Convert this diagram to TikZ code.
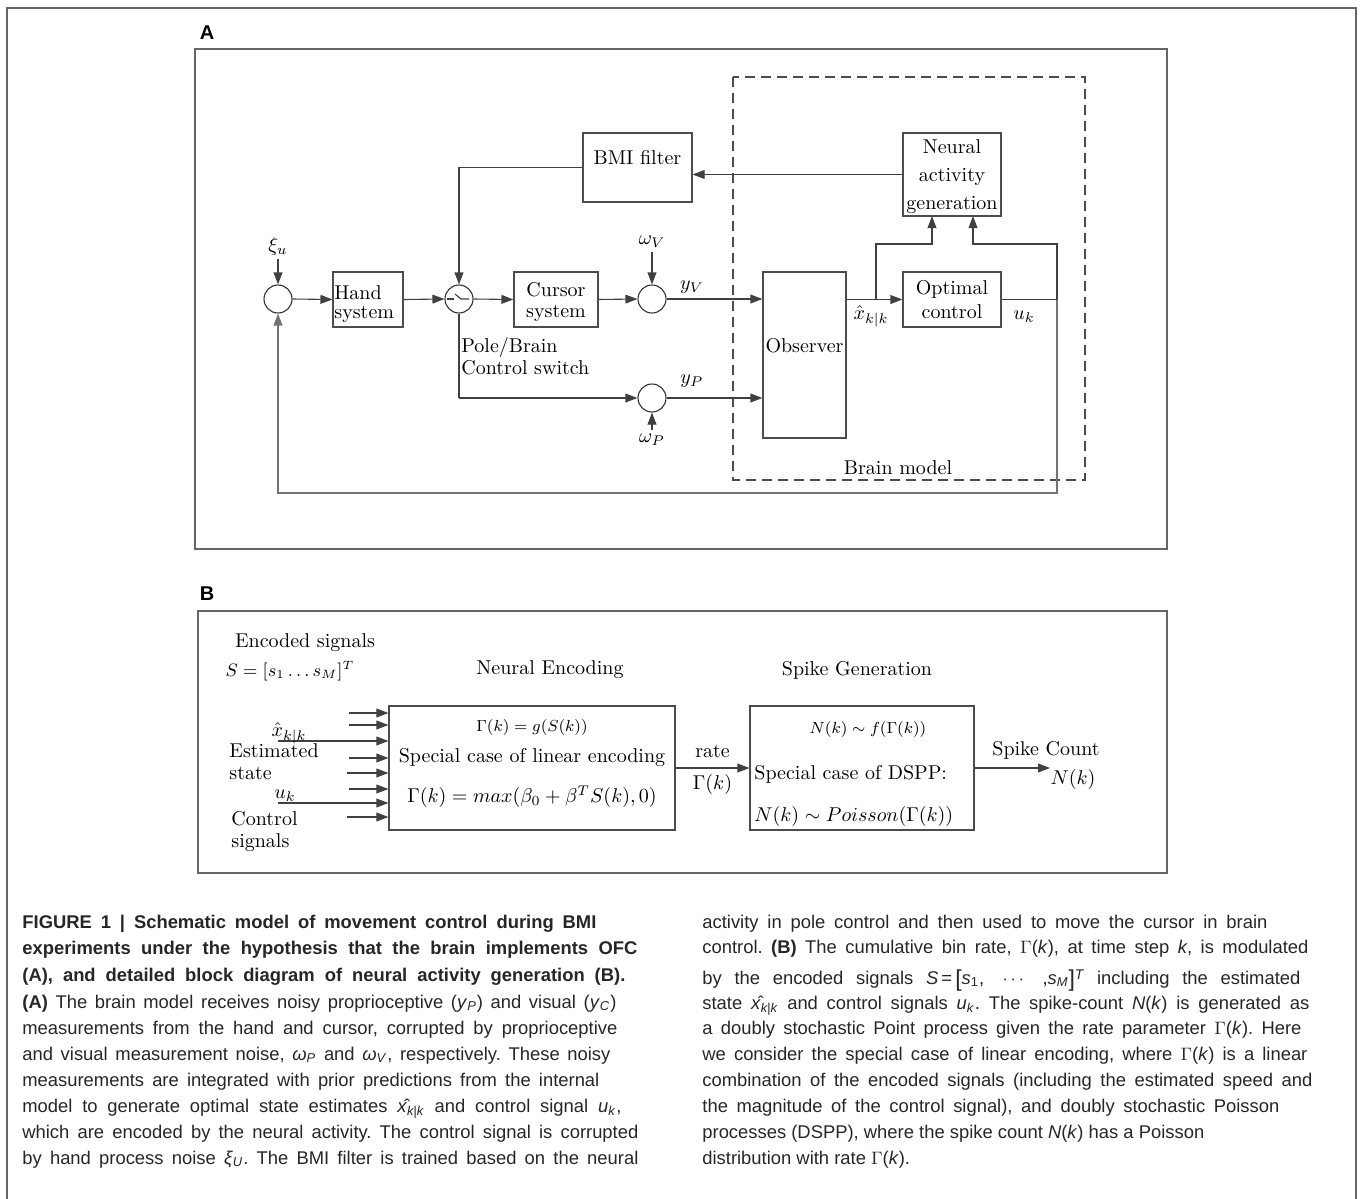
\documentclass[tikz,border=0pt]{standalone}
\usepackage{fontspec}
\newfontfamily\capfont{Liberation Sans}
\usetikzlibrary{arrows.meta}
\newcommand{\ci}[1]{\textit{#1}}
\newcommand{\cs}[1]{\textsubscript{\textit{#1}}}
\frenchspacing
\begin{document}
\begin{tikzpicture}[x=0.5pt,y=-0.5pt,
  ln/.style={draw=black!75, line width=0.55pt},
  arr/.style={ln, -{Triangle[length=6pt,width=4.4pt]}},
  fb/.style={draw=black!55, line width=0.8pt},
  blk/.style={draw=black!70, line width=0.55pt, inner sep=0pt, align=center},
  sumc/.style={circle, draw=black!80, line width=0.55pt, minimum size=14pt, inner sep=0pt},
  frame/.style={draw=black!60, line width=0.7pt},
  lbl/.style={inner sep=0pt, font=\fontsize{10}{12}\selectfont},
  panel/.style={font=\capfont\bfseries\fontsize{10}{12}\selectfont, inner sep=0pt},
  capline/.style={anchor=base west, inner sep=0pt, text=black!85, font=\capfont\fontsize{9.2}{11}\selectfont},
  brainbox/.style={draw=black!70, line width=0.55pt, dash pattern=on 5pt off 3pt}
]
\useasboundingbox (0,0) rectangle (1360,1199);
% outer frame and panels
\draw[frame] (7,1199) -- (7,8) -- (1356,8) -- (1356,1199);
\draw[frame] (195,49) rectangle (1167,549);
\node[panel] (pa) at (207,33) {A};
\draw[frame] (198,611) rectangle (1167,873);
\node[panel] (pb) at (207,594) {B};

% ---------------- Panel A ----------------
\draw[brainbox] (733,77) rectangle (1085,480);
\node[lbl] (bm) at (898,468) {Brain model};

\node[sumc] (s1) at (278,299) {};
\node[lbl] (xi) at (278,246) {$\xi_u$};
\node[blk, minimum width=35pt, minimum height=27.5pt] (hand) at (368,299.5) {};
\node[lbl, anchor=west, align=left, font=\fontsize{10}{9.8}\selectfont] (handt) at (334,304) {Hand\\system};
\node[sumc] (sw) at (459,299) {};
\draw[ln] (447,299) -- (454,299);
\draw[ln] (455,294) -- (461,299) -- (469,299);
\node[blk, minimum width=42pt, minimum height=27.5pt] (cur) at (556,299.5) {};
\node[lbl, align=center, font=\fontsize{10}{10.8}\selectfont] (curt) at (556,302) {Cursor\\system};
\node[sumc] (sv) at (652,299) {};
\node[lbl] (wv) at (652,242) {$\omega_V$};
\node[lbl] (yv) at (692,287) {$y_V$};
\node[blk, minimum width=41.5pt, minimum height=83pt] (obs) at (804.5,355) {};
\node[lbl] (obst) at (804.5,346) {Observer};
\node[blk, minimum width=49pt, minimum height=27.5pt, font=\fontsize{10}{12}\selectfont] (opt) at (952,299.5) {Optimal\\control};
\node[lbl] (xh) at (871,316) {$\hat{x}_{k|k}$};
\node[lbl] (uk) at (1024,317) {$u_k$};
\node[blk, minimum width=49pt, minimum height=41.5pt] (nag) at (952,174.5) {};
\node[lbl, align=center, font=\fontsize{10}{14}\selectfont] (nagt) at (952,177) {Neural\\activity\\generation};
\node[blk, minimum width=54.5pt, minimum height=34.5pt] (bmi) at (637.5,167.5) {};
\node[lbl] (bmit) at (637.5,158) {BMI filter};
\node[sumc] (sp) at (652,398) {};
\node[lbl] (wp) at (652,440) {$\omega_P$};
\node[lbl] (yp) at (692,381) {$y_P$};
\node[lbl, anchor=west, align=left, font=\fontsize{10}{11}\selectfont] (pole) at (461,356) {Pole/Brain\\Control switch};

\coordinate (j1) at (876,299.5);
\coordinate (j1t) at (876,244);
\coordinate (n1t) at (932,244);
\coordinate (n1) at (932,216);
\coordinate (j2) at (1057,299.5);
\coordinate (j2t) at (1057,244);
\coordinate (n2t) at (973,244);
\coordinate (n2) at (973,216);
\coordinate (j2b) at (1057,493);
\coordinate (s1b) at (278,493);

\draw[arr] (xi.south) ++(0,4) -- (s1.north);
\draw[arr] (s1.east) -- (hand.west);
\draw[arr] (hand.east) -- (sw.west);
\draw[arr] (sw.east) -- (cur.west);
\draw[arr] (cur.east) -- (sv.west);
\draw[arr] (wv.south) ++(0,4) -- (sv.north);
\draw[arr] (sv.east) -- (obs.west |- sv);
\draw[arr] (obs.east |- opt.west) -- (opt.west);
\draw[arr] (j1) -- (j1t) -- (n1t) -- (n1);
\draw[ln] (opt.east) -- (j2);
\draw[arr] (j2) -- (j2t) -- (n2t) -- (n2);
\draw[fb, -{Triangle[length=6pt,width=4.4pt]}] (j2) -- (j2b) -- (s1b) -- (s1.south);
\draw[arr] (nag.west) -- (bmi.east |- nag.west);
\draw[arr] (bmi.west) -- (sw |- bmi.west) -- (sw.north);
\draw[ln] (sw.south) -- (sw |- sp);
\draw[arr] (sw |- sp) -- (sp.west);
\draw[arr] (wp.north) ++(0,-4) -- (sp.south);
\draw[arr] (sp.east) -- (obs.west |- sp);

% ---------------- Panel B ----------------
\node[lbl] (enc) at (305,643) {Encoded signals};
\node[lbl] (Sv) at (290,671) {\small $S=[s_1\ldots s_M]^T$};
\node[lbl] (ne) at (550,670) {Neural Encoding};
\node[lbl] (sg) at (857,670) {Spike Generation};
\node[blk, minimum width=143pt, minimum height=62pt] (neb) at (532,768) {};
\node[lbl] (g1) at (532,727) {\footnotesize $\Gamma(k)=g(S(k))$};
\node[lbl] (g2) at (532,757) {Special case of linear encoding};
\node[lbl] (g3) at (532,797) {$\Gamma(k)=max(\beta_0+\beta^TS(k),0)$};
\node[blk, minimum width=112pt, minimum height=62pt] (sgb) at (862,768) {};
\node[lbl] (h1) at (868,729) {\footnotesize $N(k)\sim f(\Gamma(k))$};
\node[lbl, anchor=west] (h2) at (754,774) {Special case of DSPP:};
\node[lbl, anchor=west] (h3) at (754,816) {$N(k)\sim Poisson(\Gamma(k))$};
\draw[arr] (neb.east) -- (sgb.west)
  node[lbl, midway, above=5pt] (rate) {rate}
  node[lbl, midway, below=3pt] (gk) {$\Gamma(k)$};
\coordinate (out) at (1050,768);
\draw[arr] (sgb.east) -- (out);
\node[lbl] (sc) at (1046,750) {Spike Count};
\node[lbl] (nk) at (1073,779) {$N(k)$};

\foreach \yy/\xx [count=\i] in {713/349,725/349,741/278,758/349,773/347,789/349,803/278,817/347}{
  \coordinate (in\i) at (\xx,\yy);
  \draw[arr] (in\i) -- (neb.west |- in\i);
}
\node[lbl] (xhb) at (289,733) {$\hat{x}_{k|k}$};
\node[lbl, anchor=west] (est) at (229,751) {Estimated};
\node[lbl, anchor=west] (sta) at (229,773) {state};
\node[lbl] (ukb) at (285,796) {$u_k$};
\node[lbl, anchor=west] (con) at (231,819) {Control};
\node[lbl, anchor=west] (sig) at (231,843) {signals};

% ---------------- Caption ----------------
\node[capline] (l1) at (22,928) {\makebox[287pt][s]{\bfseries FIGURE 1 | Schematic model of movement control during BMI}};
\node[capline] (l2) at (22,954) {\makebox[307.5pt][s]{\bfseries experiments under the hypothesis that the brain implements OFC}};
\node[capline] (l3) at (22,981) {\makebox[301.5pt][s]{\bfseries (A), and detailed block diagram of neural activity generation (B).}};
\node[capline] (l4) at (22,1008) {\makebox[297pt][s]{\textbf{(A)} The brain model receives noisy proprioceptive (\ci{y}\cs{P}) and visual (\ci{y}\cs{C})}};
\node[capline] (l5) at (22,1034) {\makebox[297.5pt][s]{measurements from the hand and cursor, corrupted by proprioceptive}};
\node[capline] (l6) at (22,1060) {\makebox[294pt][s]{and visual measurement noise, \ci{ω}\cs{P} and \ci{ω}\cs{V}, respectively. These noisy}};
\node[capline] (l7) at (22,1086) {\makebox[288.5pt][s]{measurements are integrated with prior predictions from the internal}};
\node[capline] (l8) at (22,1112) {\makebox[299.5pt][s]{model to generate optimal state estimates \^{\ci{x}}\cs{k|k} and control signal \ci{u}\cs{k},}};
\node[capline] (l9) at (22,1138) {\makebox[308pt][s]{which are encoded by the neural activity. The control signal is corrupted}};
\node[capline] (l10) at (22,1164) {\makebox[308pt][s]{by hand process noise \ci{ξ}\cs{U}. The BMI filter is trained based on the neural}};

\node[capline] (r1) at (702,928) {\makebox[282.5pt][s]{activity in pole control and then used to move the cursor in brain}};
\node[capline] (r2) at (702,953) {\makebox[303pt][s]{control. \textbf{(B)} The cumulative bin rate, $\Gamma$(\ci{k}), at time step \ci{k}, is modulated}};
\node[capline] (r3) at (702,984) {\makebox[299pt][s]{by the encoded signals \ci{S}\,=\,\raisebox{-0.3ex}{\fontsize{11.5}{12}\selectfont[}\ci{s}\textsubscript{1},\quad$\cdots$\quad,\ci{s}\cs{M}\raisebox{-0.3ex}{\fontsize{11.5}{12}\selectfont]}\raisebox{0.5ex}{\fontsize{7}{8}\selectfont\ci{T}} including the estimated}};
\node[capline] (r4) at (702,1009) {\makebox[303.5pt][s]{state \^{\ci{x}}\cs{k|k} and control signals \ci{u}\cs{k}. The spike-count \ci{N}(\ci{k}) is generated as}};
\node[capline] (r5) at (702,1034) {\makebox[299.5pt][s]{a doubly stochastic Point process given the rate parameter $\Gamma$(\ci{k}). Here}};
\node[capline] (r6) at (702,1060) {\makebox[302.5pt][s]{we consider the special case of linear encoding, where $\Gamma$(\ci{k}) is a linear}};
\node[capline] (r7) at (702,1086) {\makebox[305pt][s]{combination of the encoded signals (including the estimated speed and}};
\node[capline] (r8) at (702,1112) {\makebox[288.5pt][s]{the magnitude of the control signal), and doubly stochastic Poisson}};
\node[capline] (r9) at (702,1138) {processes (DSPP), where the spike count \ci{N}(\ci{k}) has a Poisson};
\node[capline] (r10) at (702,1164) {distribution with rate $\Gamma$(\ci{k}).};
\end{tikzpicture}
\end{document}
